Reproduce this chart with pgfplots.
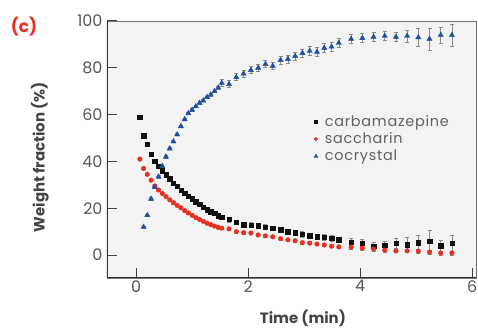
\documentclass[border=0pt]{standalone}
\usepackage{fontspec}
\setmainfont{Poppins}
\newfontfamily\legfont[LetterSpace=5]{Poppins}
\usepackage{pgfplots}
\pgfplotsset{compat=1.18}
\usepackage{pgfplotstable}
\definecolor{cbz}{HTML}{111111}
\definecolor{sac}{HTML}{E8301E}
\definecolor{coc}{HTML}{1F4F9F}
\definecolor{bgc}{HTML}{F3F3F3}
\definecolor{txt}{HTML}{555555}
\definecolor{lab}{HTML}{444444}
\definecolor{err}{HTML}{8A8A8A}

\pgfplotstableread{
t v e
0.067 59 0.5
0.133 51 0.5
0.200 47.4 0.5
0.267 43 0.5
0.333 40 0.5
0.400 38 0.5
0.467 36 0.5
0.533 34.3 0.5
0.600 32.6 0.5
0.667 30.8 0.5
0.733 29.3 0.5
0.800 27.8 0.5
0.867 26.5 0.5
0.933 25.2 0.5
1.000 24 0.5
1.067 22.8 0.5
1.133 21.8 0.5
1.200 20.5 0.5
1.267 19.3 0.5
1.333 18.6 0.5
1.400 17.8 0.5
1.467 16.8 0.5
1.53 16.2 1.0
1.66 15.2 1.0
1.79 14.0 1.0
1.92 13.0 1.0
2.05 12.8 1.0
2.18 12.6 1.0
2.31 12.0 1.0
2.44 11.5 1.0
2.58 10.8 1.0
2.71 10.0 1.0
2.84 9.5 1.2
2.97 8.8 1.2
3.10 8.2 1.2
3.23 7.8 1.2
3.36 7.6 1.2
3.49 7.2 1.2
3.62 6.5 1.2
3.84 5.6 1.5
4.04 5.1 1.5
4.24 3.8 1.5
4.44 4.3 1.5
4.64 5.0 2.0
4.84 4.5 3.0
5.04 5.2 3.4
5.24 5.8 4.7
5.44 4.0 2.5
5.64 5.0 3.4
}\cbztab

\pgfplotstableread{
t v e
0.067 41 0.5
0.133 37 0.5
0.200 34.5 0.5
0.267 32 0.5
0.333 29.5 0.5
0.400 27.8 0.5
0.467 26.3 0.5
0.533 25 0.5
0.600 23.6 0.5
0.667 22.4 0.5
0.733 21.2 0.5
0.800 20.2 0.5
0.867 19.0 0.5
0.933 18 0.5
1.000 17 0.5
1.067 16 0.5
1.133 15.2 0.5
1.200 14.4 0.5
1.267 13.6 0.5
1.333 13 0.5
1.400 12.4 0.5
1.467 11.8 0.5
1.53 11.5 0.6
1.66 11.2 0.6
1.79 10.0 0.6
1.92 9.6 0.6
2.05 9.4 0.6
2.18 8.6 0.6
2.31 8.2 0.6
2.44 7.8 0.6
2.58 7.0 0.6
2.71 6.5 0.6
2.84 6.1 0.6
2.97 5.3 0.6
3.10 5.1 0.6
3.23 4.7 0.6
3.36 4.3 0.6
3.49 3.8 0.6
3.62 3.5 0.6
3.84 3.4 0.8
4.04 3.0 0.8
4.24 2.6 0.8
4.44 2.1 0.8
4.64 1.8 0.8
4.84 1.8 0.8
5.04 1.7 0.8
5.24 1.3 0.8
5.44 0.9 0.8
5.64 0.9 0.8
}\sactab

\pgfplotstableread{
t v e
0.133 12 0.5
0.200 17 0.5
0.267 24 0.5
0.333 29 0.5
0.400 33.5 0.5
0.467 38 0.5
0.533 42 0.5
0.600 45.5 0.5
0.667 48.5 0.5
0.733 51.5 0.5
0.800 55 0.5
0.867 58 0.5
0.933 60.5 0.5
1.000 62 0.5
1.067 63.5 0.5
1.133 65 0.5
1.200 66 0.5
1.267 67.5 0.5
1.333 68.5 0.5
1.400 70 0.5
1.467 71.5 0.5
1.53 73.5 1.5
1.66 73 1.5
1.79 76 1.5
1.92 77.5 1.5
2.05 79 1.5
2.18 80 1.5
2.31 81.6 1.5
2.44 80.8 1.5
2.58 83.3 1.8
2.71 83.7 1.8
2.84 85 1.8
2.97 86.3 1.8
3.10 87.2 1.8
3.23 86.8 1.8
3.36 88.5 1.8
3.49 89 1.8
3.62 90.6 1.8
3.84 92.3 2.0
4.04 92.7 2.0
4.24 93.2 2.0
4.44 93.6 2.0
4.64 93.2 2.0
4.84 93.6 2.5
5.04 93 3.8
5.24 92.3 4.7
5.44 94 3.4
5.64 94 4.7
}\coctab

\begin{document}
\begin{tikzpicture}
\begin{axis}[
  name=ax,
  scale only axis,
  width=369bp, height=257bp,
  xmin=-0.52, xmax=6.07,
  ymin=-9.8, ymax=100,
  xtick={0,2,4,6},
  ytick={0,20,40,60,80,100},
  tick pos=left,
  tick align=inside,
  major tick length=10bp,
  minor tick num=0,
  axis line style={draw=black!55, line width=0.8bp},
  tick style={draw=black!75, line width=1bp},
  axis background/.style={fill=bgc},
  /pgf/number format/assume math mode=true,
  ticklabel style={font=\fontsize{16}{19}\selectfont, text=txt},
  xticklabel style={yshift=1bp},
  yticklabel style={xshift=-1bp},
  xlabel={Time (min)},
  ylabel={Weight fraction (\%)},
  xlabel style={at={(axis description cs:0.531,-0.156)}, anchor=center, font=\bfseries\fontsize{15}{18}\selectfont, text=lab},
  ylabel style={at={(axis description cs:-0.182,0.47)}, anchor=center, font=\bfseries\fontsize{15}{18}\selectfont, text=lab},
  legend style={draw=none, fill=none, at={(axis cs:3.12,61.5)}, anchor=north west,
    font=\legfont\fontsize{14.5}{21}\selectfont, text=black!62, row sep=1bp,
    /tikz/every odd column/.append style={column sep=5bp}},
  legend cell align=left,
  legend image post style={scale=0.75},
]
\addplot[only marks, mark=square*, mark size=2.2bp, color=cbz,
  error bars/.cd, y dir=both, y explicit,
  error bar style={err, line width=0.6bp},
  error mark options={rotate=90, mark size=2bp, err, line width=0.6bp}]
  table[x=t, y=v, y error=e]{\cbztab};
\addlegendentry{carbamazepine}
\addplot[only marks, mark=*, mark size=2.3bp, color=sac,
  error bars/.cd, y dir=both, y explicit,
  error bar style={err, line width=0.6bp},
  error mark options={rotate=90, mark size=2bp, err, line width=0.6bp}]
  table[x=t, y=v, y error=e]{\sactab};
\addlegendentry{saccharin}
\addplot[only marks, mark=triangle*, mark size=3bp, color=coc,
  error bars/.cd, y dir=both, y explicit,
  error bar style={err, line width=0.6bp},
  error mark options={rotate=90, mark size=2bp, err, line width=0.6bp}]
  table[x=t, y=v, y error=e]{\coctab};
\addlegendentry{cocrystal}
\draw[black!80, line width=1.3bp] (rel axis cs:0,1) -- (rel axis cs:0,0) -- (rel axis cs:1,0);
\end{axis}
\node[text=sac, font=\bfseries\fontsize{17}{20}\selectfont] at ([xshift=-83bp,yshift=-6bp]ax.north west) {(c)};
\pgfresetboundingbox
\useasboundingbox ([xshift=-107bp,yshift=-51bp]ax.south west) rectangle ([xshift=2bp,yshift=21bp]ax.north east);
\end{tikzpicture}
\end{document}
